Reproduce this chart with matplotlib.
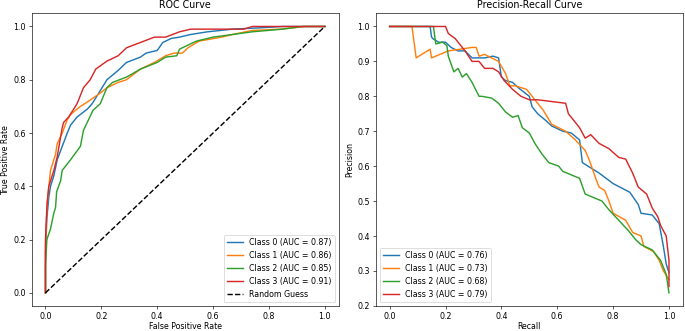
import numpy as np
import matplotlib
matplotlib.use("Agg")
import matplotlib.pyplot as plt

# ROC: (fpr, tpr) per class
roc_fpr_0 = [0.0, 0.0, 0.005, 0.012, 0.018, 0.03, 0.042, 0.06, 0.078, 0.09, 0.113, 0.15, 0.167, 0.185,
             0.22, 0.26, 0.29, 0.34, 0.36, 0.40, 0.42, 0.45, 0.48, 0.52, 0.58, 0.67, 0.77, 0.85, 1.0]
roc_tpr_0 = [0.0, 0.15, 0.28, 0.36, 0.40, 0.44, 0.50, 0.55, 0.60, 0.63, 0.66, 0.69, 0.71, 0.74,
             0.80, 0.835, 0.865, 0.885, 0.90, 0.91, 0.94, 0.955, 0.96, 0.97, 0.98, 0.99, 0.995, 1.0, 1.0]

roc_fpr_1 = [0.0, 0.0, 0.005, 0.012, 0.018, 0.036, 0.042, 0.06, 0.078, 0.09, 0.125, 0.155, 0.196, 0.22,
             0.26, 0.29, 0.34, 0.39, 0.43, 0.46, 0.49, 0.51, 0.55, 0.63, 0.67, 0.74, 0.84, 0.93, 1.0]
roc_tpr_1 = [0.0, 0.18, 0.32, 0.40, 0.46, 0.52, 0.56, 0.60, 0.65, 0.67, 0.70, 0.72, 0.75, 0.77,
             0.79, 0.80, 0.84, 0.865, 0.89, 0.90, 0.90, 0.92, 0.945, 0.96, 0.97, 0.985, 0.99, 1.0, 1.0]

roc_fpr_2 = [0.0, 0.0, 0.005, 0.018, 0.03, 0.036, 0.04, 0.054, 0.06, 0.09, 0.125, 0.136, 0.17, 0.196,
             0.22, 0.24, 0.29, 0.34, 0.40, 0.43, 0.47, 0.48, 0.54, 0.60, 0.67, 0.74, 0.85, 0.92, 1.0]
roc_tpr_2 = [0.0, 0.10, 0.20, 0.24, 0.30, 0.32, 0.38, 0.42, 0.46, 0.50, 0.55, 0.61, 0.685, 0.71,
             0.77, 0.79, 0.81, 0.84, 0.865, 0.885, 0.89, 0.915, 0.945, 0.96, 0.97, 0.98, 0.99, 1.0, 1.0]

roc_fpr_3 = [0.0, 0.0, 0.006, 0.012, 0.03, 0.042, 0.054, 0.06, 0.065, 0.083, 0.113, 0.136, 0.16, 0.18,
             0.22, 0.26, 0.29, 0.34, 0.39, 0.43, 0.48, 0.52, 0.71, 0.74, 1.0]
roc_tpr_3 = [0.0, 0.20, 0.34, 0.40, 0.46, 0.51, 0.585, 0.62, 0.64, 0.66, 0.71, 0.77, 0.80, 0.84,
             0.87, 0.89, 0.92, 0.94, 0.96, 0.96, 0.98, 0.99, 0.99, 1.0, 1.0]

roc_auc = [0.87, 0.86, 0.85, 0.91]

# Precision-Recall: (recall, precision) per class
pr_rec_0 = [0.0, 0.145, 0.15, 0.155, 0.175, 0.20, 0.22, 0.245, 0.27, 0.295, 0.32, 0.34, 0.37, 0.39,
            0.40, 0.415, 0.44, 0.46, 0.50, 0.51, 0.53, 0.56, 0.58, 0.62, 0.65, 0.68, 0.69, 0.75, 0.80,
            0.86, 0.89, 0.90, 0.94, 0.965, 0.98, 0.99, 1.0]
pr_prec_0 = [1.0, 1.0, 0.97, 0.965, 0.955, 0.955, 0.94, 0.93, 0.93, 0.91, 0.91, 0.91, 0.915, 0.91,
             0.855, 0.845, 0.84, 0.825, 0.80, 0.77, 0.75, 0.73, 0.715, 0.70, 0.695, 0.675, 0.61, 0.58, 0.55,
             0.525, 0.49, 0.465, 0.46, 0.435, 0.37, 0.32, 0.295]

pr_rec_1 = [0.0, 0.08, 0.095, 0.145, 0.15, 0.21, 0.295, 0.31, 0.32, 0.34, 0.365, 0.39, 0.415, 0.43,
            0.45, 0.49, 0.52, 0.55, 0.58, 0.63, 0.665, 0.70, 0.715, 0.74, 0.75, 0.77, 0.785, 0.80, 0.845,
            0.87, 0.90, 0.91, 0.945, 0.965, 0.98, 1.0]
pr_prec_1 = [1.0, 1.0, 0.91, 0.935, 0.91, 0.93, 0.94, 0.94, 0.915, 0.92, 0.91, 0.90, 0.865, 0.83,
             0.83, 0.82, 0.79, 0.76, 0.72, 0.70, 0.675, 0.645, 0.617, 0.56, 0.54, 0.53, 0.50, 0.465, 0.445,
             0.41, 0.40, 0.37, 0.355, 0.33, 0.30, 0.275]

pr_rec_2 = [0.0, 0.157, 0.165, 0.19, 0.205, 0.21, 0.23, 0.245, 0.26, 0.275, 0.295, 0.32, 0.33, 0.365,
            0.39, 0.415, 0.44, 0.46, 0.475, 0.50, 0.52, 0.545, 0.57, 0.605, 0.62, 0.68, 0.70, 0.76, 0.785,
            0.82, 0.855, 0.88, 0.90, 0.94, 0.97, 0.99, 1.0]
pr_prec_2 = [1.0, 1.0, 0.95, 0.955, 0.945, 0.915, 0.87, 0.88, 0.855, 0.865, 0.84, 0.80, 0.80, 0.795,
             0.78, 0.755, 0.74, 0.745, 0.71, 0.695, 0.665, 0.635, 0.61, 0.60, 0.585, 0.565, 0.52, 0.50, 0.475,
             0.445, 0.415, 0.39, 0.375, 0.36, 0.33, 0.29, 0.237]

pr_rec_3 = [0.0, 0.20, 0.21, 0.235, 0.25, 0.27, 0.295, 0.32, 0.34, 0.37, 0.39, 0.41, 0.44, 0.47,
            0.50, 0.53, 0.58, 0.63, 0.64, 0.68, 0.70, 0.72, 0.75, 0.785, 0.82, 0.845, 0.87, 0.89, 0.92,
            0.94, 0.96, 0.97, 0.99, 1.0, 1.0]
pr_prec_3 = [1.0, 1.0, 0.98, 0.965, 0.95, 0.93, 0.90, 0.90, 0.88, 0.88, 0.87, 0.845, 0.82, 0.80,
             0.79, 0.79, 0.785, 0.78, 0.75, 0.71, 0.68, 0.69, 0.665, 0.65, 0.625, 0.62, 0.58, 0.54, 0.52,
             0.48, 0.455, 0.43, 0.40, 0.33, 0.255]

pr_auc = [0.76, 0.73, 0.68, 0.79]

roc_data = [(roc_fpr_0, roc_tpr_0), (roc_fpr_1, roc_tpr_1), (roc_fpr_2, roc_tpr_2), (roc_fpr_3, roc_tpr_3)]
pr_data = [(pr_rec_0, pr_prec_0), (pr_rec_1, pr_prec_1), (pr_rec_2, pr_prec_2), (pr_rec_3, pr_prec_3)]

LW = 1.8

# figure drawn at 12x5.8 inches, dpi chosen so the png is 685x331
fig, (ax1, ax2) = plt.subplots(1, 2, figsize=(12, 5.8))
fig.subplots_adjust(left=0.046, right=0.997, bottom=0.075, top=0.96, wspace=0.12)

for i, (x, y) in enumerate(roc_data):
    ax1.plot(x, y, lw=LW, label=f"Class {i} (AUC = {roc_auc[i]:.2f})")
ax1.plot([0, 1], [0, 1], 'k--', lw=LW, label="Random Guess")
ax1.set_title("ROC Curve")
ax1.set_xlabel("False Positive Rate", labelpad=2)
ax1.set_ylabel("True Positive Rate")
ax1.legend(loc="lower right")

for i, (x, y) in enumerate(pr_data):
    ax2.plot(x, y, lw=LW, label=f"Class {i} (AUC = {pr_auc[i]:.2f})")
ax2.set_title("Precision-Recall Curve")
ax2.set_xlabel("Recall", labelpad=2)
ax2.set_ylabel("Precision")
ax2.legend(loc="lower left")

fig.savefig("out.png", dpi=685 / 12)
